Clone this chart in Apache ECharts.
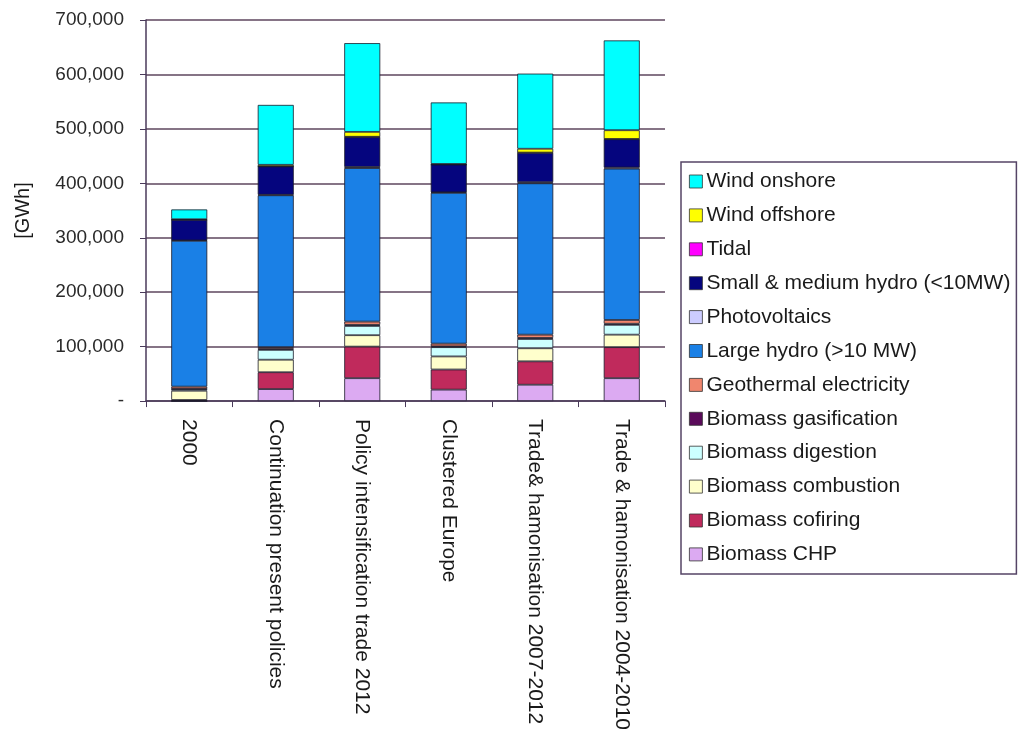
<!DOCTYPE html>
<html>
<head>
<meta charset="utf-8">
<script src="https://cdn.jsdelivr.net/npm/echarts@6/dist/echarts.min.js"></script>
<style>
html,body{margin:0;padding:0;background:#fff;}
#chart{width:1018px;height:733px;}
</style>
</head>
<body>
<div id="chart"></div>
<script>
var categories = ["2000", "Continuation present policies", "Policy intensification trade 2012", "Clustered Europe", "Trade& hamonisation 2007-2012", "Trade & hamonisation 2004-2010"];
var yTicks = [0, 100000, 200000, 300000, 400000, 500000, 600000, 700000];

var biomassCHP        = [0,      22000,  42000,  21000,  30000,  42000];
var biomassCofiring   = [2000,   31000,  58000,  37000,  43000,  57000];
var biomassCombustion = [17000,  23000,  21000,  24000,  24000,  23000];
var biomassDigestion  = [3000,   18000,  17000,  17000,  17000,  18000];
var biomassGasification = [500,  2000,   2000,   1500,   2000,   2000];
var geothermal        = [4000,   3000,   6000,   5000,   6000,   7000];
var largeHydro        = [268000, 279000, 282000, 277000, 278000, 278000];
var photovoltaics     = [500,    1000,   2000,   1000,   2000,   2000];
var smallHydro        = [38000,  52000,  55000,  51000,  54000,  52000];
var tidal             = [0,      0,      500,    0,      500,    500];
var windOffshore      = [1000,   3000,   9000,   1000,   7000,   16000];
var windOnshore       = [18000,  110000, 163000, 113000, 138000, 165000];

var seriesDefs = [
  ["Biomass CHP", biomassCHP, "#dcaaf2"],
  ["Biomass cofiring", biomassCofiring, "#c02a5c"],
  ["Biomass combustion", biomassCombustion, "#ffffcc"],
  ["Biomass digestion", biomassDigestion, "#ccffff"],
  ["Biomass gasification", biomassGasification, "#5a0a5a"],
  ["Geothermal electricity", geothermal, "#f0866e"],
  ["Large hydro (>10 MW)", largeHydro, "#1a80e6"],
  ["Photovoltaics", photovoltaics, "#ccccff"],
  ["Small & medium hydro (<10MW)", smallHydro, "#05057e"],
  ["Tidal", tidal, "#ff00ff"],
  ["Wind offshore", windOffshore, "#ffff00"],
  ["Wind onshore", windOnshore, "#00ffff"]
];

var FONT = "Liberation Sans, Arial, sans-serif";

var series = seriesDefs.map(function (d) {
  return {
    name: d[0],
    type: "bar",
    stack: "total",
    data: d[1],
    barWidth: 36,
    itemStyle: { color: d[2], borderColor: "#1a1a2a", borderWidth: 0.8 },
    emphasis: { disabled: true }
  };
});

var legendOrder = seriesDefs.map(function (d) { return d[0]; }).reverse();

var chart = echarts.init(document.getElementById("chart"), null, { renderer: "canvas" });
chart.setOption({
  animation: false,
  backgroundColor: "#ffffff",
  grid: { left: 146, right: 353, top: 20, bottom: 331.5, containLabel: false },
  legend: {
    orient: "vertical",
    left: 681,
    top: 162,
    data: legendOrder,
    itemWidth: 13,
    itemHeight: 13,
    itemGap: 12.9,
    padding: [9, 6, 9, 8],
    borderColor: "#554466",
    borderWidth: 1.5,
    icon: "rect",
    selectedMode: false,
    textStyle: { fontFamily: FONT, fontSize: 21, color: "#1a1a1a", padding: [0, 0, 0, -1] },
    itemStyle: { borderColor: "#333", borderWidth: 0.8 }
  },
  xAxis: {
    type: "category",
    data: categories,
    boundaryGap: true,
    axisLine: { show: true, lineStyle: { color: "#4a3a5a", width: 1.5 } },
    axisTick: { show: true, alignWithLabel: false, length: 6, lineStyle: { color: "#4a3a5a" } },
    axisLabel: {
      rotate: -90,
      interval: 0,
      margin: 18,
      fontFamily: FONT,
      fontSize: 21,
      color: "#1a1a1a"
    }
  },
  yAxis: {
    type: "value",
    min: 0,
    max: 700000,
    interval: 100000,
    name: "[GWh]",
    nameLocation: "middle",
    nameRotate: 90,
    nameGap: 113,
    nameTextStyle: { fontFamily: FONT, fontSize: 20, color: "#1a1a1a" },
    axisLine: { show: true, lineStyle: { color: "#4a3a5a", width: 1.5 } },
    axisTick: { show: true, length: 6, lineStyle: { color: "#4a3a5a" } },
    splitLine: { show: true, lineStyle: { color: "#5e465e", width: 1.6 } },
    axisLabel: {
      margin: 22,
      fontFamily: FONT,
      fontSize: 19,
      color: "#2a2a2a",
      formatter: function (v) {
        if (v === 0) return "-";
        return v.toLocaleString("en-US");
      }
    }
  },
  series: series
});
</script>
</body>
</html>
